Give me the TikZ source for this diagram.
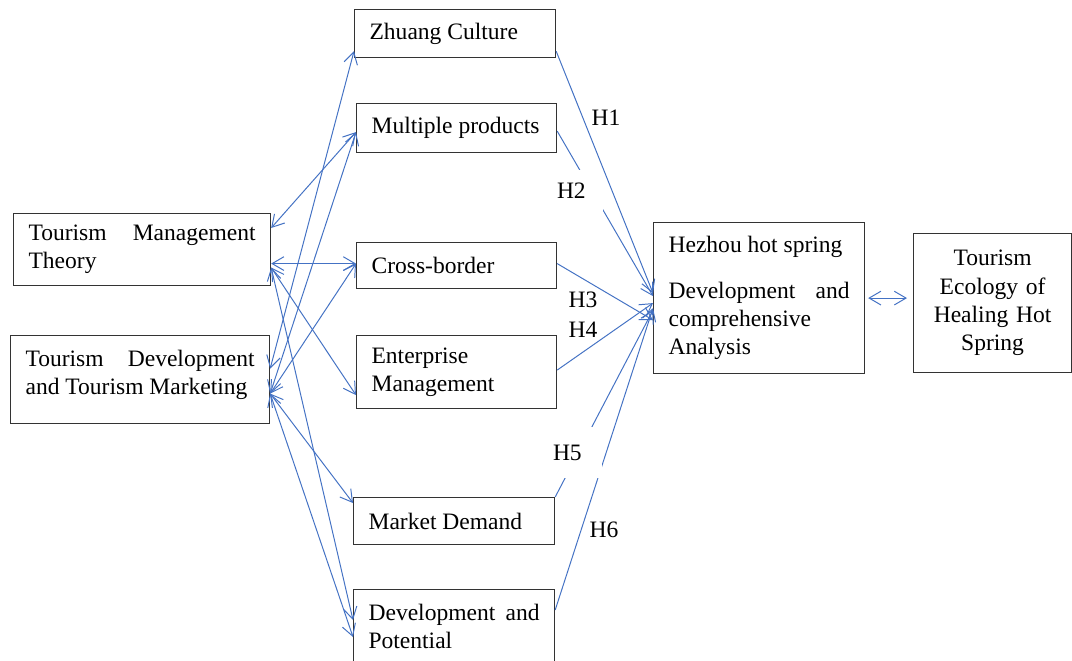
\documentclass[tikz,border=0pt]{standalone}
\usepackage{fontspec}
\setmainfont{Liberation Serif}
\usetikzlibrary{arrows.meta}
\definecolor{linkblue}{RGB}{68,114,196}
\newdimen\px \px=0.51pt
\hyphenpenalty=10000
\tolerance=9999
\hbadness=10000

\tikzset{
    box/.style={draw=black!80, line width=0.6pt, anchor=north west,
        inner xsep=15\px, inner ysep=0pt, align=justify,
        font=\fontsize{12}{14.4}\selectfont},
    link/.style={draw=linkblue, line width=0.5pt,
        {Straight Barb[length=6pt,width=7pt]}-{Straight Barb[length=6pt,width=7pt]}},
    hypo/.style={draw=linkblue, line width=0.5pt,
        -{Straight Barb[length=6pt,width=7pt]}},
    hlabel/.style={fill=white, inner sep=1pt, font=\fontsize{12}{14.4}\selectfont},
}

\begin{document}
\begin{tikzpicture}[x=0.51pt, y=-0.51pt]
    \useasboundingbox[fill=white] (0, 0) rectangle (1072, 660);
    % Theories
    \node[box, text width=227\px, minimum height=72\px] (tmt) at (13, 213)
        {Tourism Management Theory};
    \node[box, text width=229\px, minimum height=88\px] (tdm) at (10, 335)
        {Tourism Development and Tourism Marketing\\[-14\px]\mbox{}};
    % Factors
    \node[box, text width=171\px, minimum height=48\px] (zc) at (354, 9)
        {Zhuang Culture};
    \node[box, text width=170\px, minimum height=49\px] (mp) at (356, 103)
        {Multiple products};
    \node[box, text width=170\px, minimum height=46\px] (cb) at (356, 242)
        {Cross-border};
    \node[box, text width=170\px, minimum height=73\px] (em) at (356, 335)
        {Enterprise Management};
    \node[box, text width=171\px, minimum height=47\px] (md) at (353, 497)
        {Market Demand};
    \node[box, text width=171\px, minimum height=74\px] (dp) at (353, 589)
        {Development and Potential};
    % Outcome
    \node[box, text width=181\px, minimum height=151\px] (hz) at (653, 222)
        {Hezhou hot spring\par\vspace{17\px}Development and comprehensive Analysis};
    \node[box, text width=128\px, minimum height=139\px, align=center] (eco) at (913, 233)
        {Tourism\\Ecology of\\Healing Hot\\Spring};

    % Theory links
    \draw[link] ([yshift=-15\px]tmt.north east) -- ([yshift=-4\px]mp.west);
    \draw[link] ([yshift=-14\px]tmt.east) -- ([yshift=2\px]cb.west);
    \draw[link] ([yshift=-18\px]tmt.east) -- ([yshift=-23\px]em.west);
    \draw[link] ([yshift=-18\px]tmt.east) -- ([yshift=-31\px]dp.north west);
    \draw[link] ([yshift=11\px]tdm.east) -- ([yshift=7\px]zc.south west);
    \draw[link] ([yshift=-14\px]tdm.east) -- ([yshift=-4\px]mp.west);
    \draw[link] ([yshift=-14\px]tdm.east) -- ([yshift=2\px]cb.west);
    \draw[link] ([yshift=-14\px]tdm.east) -- ([yshift=-6\px]md.north west);
    \draw[link] ([yshift=-14\px]tdm.east) -- ([yshift=-48\px]dp.north west);

    % Hypotheses
    \draw[hypo] ([yshift=7\px]zc.south east) -- ([yshift=5\px]hz.west);
    \draw[hypo] ([yshift=-3\px]mp.east) -- ([yshift=2\px]hz.west);
    \draw[hypo] ([yshift=2\px]cb.east) -- ([yshift=-22\px]hz.west);
    \draw[hypo] ([yshift=2\px]em.east) -- ([yshift=-5\px]hz.west);
    \draw[hypo] (md.north east) -- ([yshift=-12\px]hz.west);
    \draw[hypo] ([yshift=-21\px]dp.north east) -- ([yshift=-10\px]hz.west);
    \draw[link, shorten <=3\px, shorten >=6\px] (hz.east) -- (hz.east -| eco.west);

    % Labels
    \node[hlabel] (h1) at (606, 118) {H1};
    \node[hlabel, text width=39\px, inner xsep=7\px, minimum height=41\px, align=left]
        (h2) at (576.5, 190.5) {H2};
    \node[hlabel] (h3) at (583, 300) {H3};
    \node[hlabel] (h4) at (583, 330) {H4};
    \node[hlabel, text width=44\px, inner xsep=5\px, minimum height=51\px, align=left]
        (h5) at (575, 452.5) {H5};
    \node[hlabel] (h6) at (604, 530) {H6};
\end{tikzpicture}
\end{document}
